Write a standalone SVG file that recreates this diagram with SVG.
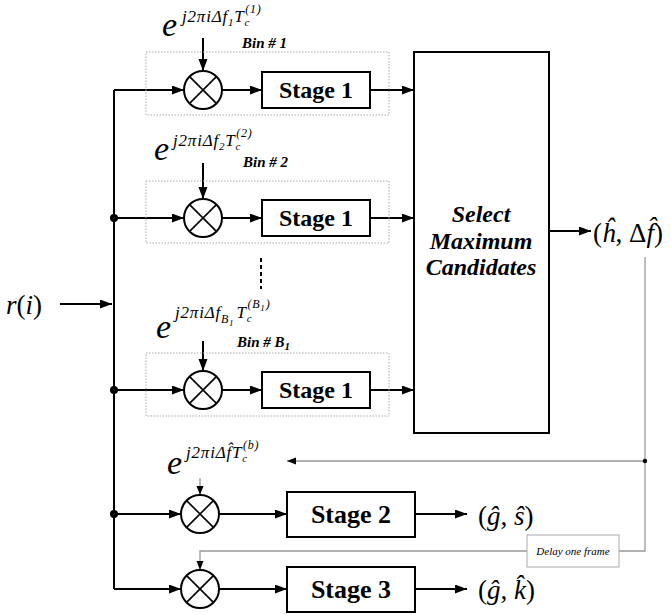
<svg xmlns="http://www.w3.org/2000/svg" width="671" height="615" viewBox="0 0 671 615" font-family="'Liberation Serif', 'DejaVu Serif', serif">
<style>
.ln{stroke:#000;stroke-width:2;fill:none}
.gl{stroke:#9a9a9a;stroke-width:1.3;fill:none}
.box{fill:#fff;stroke:#000;stroke-width:2}
.bin{fill:none;stroke:#aaa;stroke-width:1;stroke-dasharray:1.5 1.5}
.mul circle{fill:#fff;stroke:#000;stroke-width:2}
.mul path{stroke:#000;stroke-width:1.6}
.stg{font-weight:bold;font-size:24px;text-anchor:middle}
.stg2{font-weight:bold;font-size:26px;text-anchor:middle}
.sel{font-weight:bold;font-style:italic;font-size:24px;text-anchor:middle}
.binl{font-weight:bold;font-style:italic;font-size:15px}
.e{font-style:italic;font-size:34px}
.sup{font-style:italic;font-size:17px;letter-spacing:0.8px}
.math{font-size:27px}
.it{font-style:italic}
.dly{font-style:italic;font-size:11px;text-anchor:middle}
</style>
<defs>
<marker id="ah" markerWidth="13" markerHeight="10" refX="12" refY="4.5" orient="auto" markerUnits="userSpaceOnUse"><path d="M0,0 L12,4.5 L0,9 z" fill="#000"/></marker>
<marker id="ag" markerWidth="10" markerHeight="8" refX="9" refY="3.5" orient="auto" markerUnits="userSpaceOnUse"><path d="M0,0 L9,3.5 L0,7 z" fill="#000"/></marker>
</defs>
<rect width="671" height="615" fill="#fff"/>

<g id="connectors">
<path class="ln" d="M114,90 V589"/>
<circle cx="114" cy="218" r="4" fill="#000"/>
<circle cx="114" cy="390" r="4" fill="#000"/>
<circle cx="114" cy="514" r="4" fill="#000"/>
<path class="ln" d="M60,304 H112" marker-end="url(#ah)"/>
<path class="ln" d="M114,90 H184" marker-end="url(#ah)"/>
<path class="ln" d="M222,90 H262" marker-end="url(#ah)"/>
<path class="ln" d="M370,90 H414" marker-end="url(#ah)"/>
<path class="ln" d="M203,38 V71" marker-end="url(#ah)"/>
<path class="ln" d="M114,218 H184" marker-end="url(#ah)"/>
<path class="ln" d="M222,218 H262" marker-end="url(#ah)"/>
<path class="ln" d="M370,218 H414" marker-end="url(#ah)"/>
<path class="ln" d="M203,163 V199" marker-end="url(#ah)"/>
<path class="ln" d="M114,390 H184" marker-end="url(#ah)"/>
<path class="ln" d="M222,390 H262" marker-end="url(#ah)"/>
<path class="ln" d="M370,390 H414" marker-end="url(#ah)"/>
<path class="ln" d="M203,341 V371" marker-end="url(#ah)"/>
<path d="M261,258 V289" stroke="#000" stroke-width="2" stroke-dasharray="4 3"/>
<path class="ln" d="M549,231 H591" marker-end="url(#ah)"/>
<path class="ln" d="M114,514 H181" marker-end="url(#ah)"/>
<path class="ln" d="M219,514 H287" marker-end="url(#ah)"/>
<path class="ln" d="M415,514 H467" marker-end="url(#ah)"/>
<path class="ln" d="M114,589 H181" marker-end="url(#ah)"/>
<path class="ln" d="M219,589 H287" marker-end="url(#ah)"/>
<path class="ln" d="M415,589 H467" marker-end="url(#ah)"/>
<path class="gl" d="M645,257 V551 H619"/>
<path class="gl" d="M645,461 H287" marker-end="url(#ag)"/>
<circle cx="645" cy="461" r="2.2" fill="#000"/>
<path class="gl" d="M527,551 H200 V570" marker-end="url(#ag)"/>
<path class="gl" d="M200,478 V495" marker-end="url(#ag)"/>
</g>

<g id="bin1">
<rect class="bin" x="146" y="52" width="243" height="63"/>
<text class="binl" x="242" y="48">Bin # 1</text>
<text class="e" x="162" y="36">e</text>
<text class="sup" x="182" y="22">j2πiΔf<tspan font-size="11" dy="4">1</tspan><tspan dy="-4">T</tspan><tspan font-size="11" dy="4">c</tspan><tspan font-size="12" dx="-5" dy="-13">(1)</tspan></text>
<g class="mul" transform="translate(203,90)"><circle r="19"/><path d="M-13.4,-13.4 L13.4,13.4 M13.4,-13.4 L-13.4,13.4"/></g>
<rect class="box" x="262" y="72" width="108" height="36"/>
<text class="stg" x="316" y="98">Stage 1</text>
</g>

<g id="bin2">
<rect class="bin" x="146" y="181" width="243" height="62"/>
<text class="binl" x="243" y="167">Bin # 2</text>
<text class="e" x="154" y="160">e</text>
<text class="sup" x="173" y="146">j2πiΔf<tspan font-size="11" dy="4">2</tspan><tspan dy="-4">T</tspan><tspan font-size="11" dy="4">c</tspan><tspan font-size="12" dx="-5" dy="-13">(2)</tspan></text>
<g class="mul" transform="translate(203,218)"><circle r="19"/><path d="M-13.4,-13.4 L13.4,13.4 M13.4,-13.4 L-13.4,13.4"/></g>
<rect class="box" x="262" y="200" width="108" height="36"/>
<text class="stg" x="316" y="226">Stage 1</text>
</g>

<g id="binB1">
<rect class="bin" x="146" y="353" width="243" height="63"/>
<text class="binl" x="237" y="347">Bin # B<tspan font-size="11" dy="3">1</tspan></text>
<text class="e" x="156" y="338">e</text>
<text class="sup" x="175" y="318">j2πiΔf<tspan font-size="12" dy="5">B</tspan><tspan font-size="9" dy="3">1</tspan><tspan dx="2" dy="-8">T</tspan><tspan font-size="11" dy="4">c</tspan><tspan font-size="12" dx="-5" dy="-14">(B</tspan><tspan font-size="9" dy="3">1</tspan><tspan font-size="12" dy="-3">)</tspan></text>
<g class="mul" transform="translate(203,390)"><circle r="19"/><path d="M-13.4,-13.4 L13.4,13.4 M13.4,-13.4 L-13.4,13.4"/></g>
<rect class="box" x="262" y="372" width="108" height="36"/>
<text class="stg" x="316" y="398">Stage 1</text>
</g>

<g id="input">
<text class="math" x="6" y="314" font-size="31"><tspan class="it">r</tspan>(<tspan class="it">i</tspan>)</text>
</g>

<g id="select">
<rect class="box" x="414" y="52" width="135" height="381"/>
<text class="sel" x="481" y="222">Select</text>
<text class="sel" x="481" y="249">Maximum</text>
<text class="sel" x="481" y="275">Candidates</text>
</g>

<g id="out1">
<text class="math" x="593" y="242">(<tspan class="it">ĥ</tspan>, Δ<tspan class="it">f̂</tspan>)</text>
</g>

<g id="stage2row">
<text class="e" x="167" y="474">e</text>
<text class="sup" x="186" y="458">j2πiΔ<tspan>f̂</tspan>T<tspan font-size="11" dy="4">c</tspan><tspan font-size="12" dx="-5" dy="-13">(b)</tspan></text>
<g class="mul" transform="translate(200,514)"><circle r="19"/><path d="M-13.4,-13.4 L13.4,13.4 M13.4,-13.4 L-13.4,13.4"/></g>
<rect class="box" x="287" y="492" width="128" height="45"/>
<text class="stg2" x="351" y="523">Stage 2</text>
<text class="math" x="478" y="525">(<tspan class="it">ĝ</tspan>, <tspan class="it">ŝ</tspan>)</text>
</g>

<g id="delay">
<rect x="527" y="535" width="92" height="32" fill="#fff" stroke="#aaa" stroke-width="1"/>
<text class="dly" x="573" y="555">Delay one frame</text>
</g>

<g id="stage3row">
<g class="mul" transform="translate(200,589)"><circle r="19"/><path d="M-13.4,-13.4 L13.4,13.4 M13.4,-13.4 L-13.4,13.4"/></g>
<rect class="box" x="287" y="567" width="128" height="45"/>
<text class="stg2" x="351" y="598">Stage 3</text>
<text class="math" x="478" y="599">(<tspan class="it">ĝ</tspan>, <tspan class="it">k̂</tspan>)</text>
</g>
</svg>
